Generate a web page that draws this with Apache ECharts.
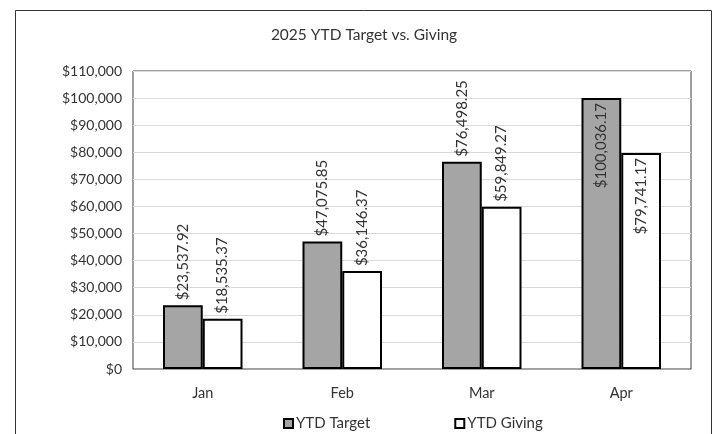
<!DOCTYPE html>
<html><head><meta charset="utf-8">
<script src="https://cdn.jsdelivr.net/npm/echarts@6/dist/echarts.min.js"></script>
<style>html,body{margin:0;padding:0;background:#fff}#c{width:728px;height:434px}</style>
</head><body><div id="c"></div>
<script>
const categories = ['Jan', 'Feb', 'Mar', 'Apr'];
const targetValues = [23537.92, 47075.85, 76498.25, 100036.17];
const givingValues = [18535.37, 36146.37, 59849.27, 79741.17];
const targetInside = [false, false, false, true];
const givingInside = [false, false, false, true];
const seriesNames = ['YTD Target', 'YTD Giving'];
const yTicks = { min: 0, max: 110000, interval: 10000 };

const FONT = 'Lato, "Open Sans", sans-serif';
function fmt(v) {
  return '$' + v.toLocaleString('en-US', { minimumFractionDigits: 2, maximumFractionDigits: 2 });
}
function buildData(vals, inside) {
  return vals.map((v, i) => ({
    value: v,
    label: inside[i]
      ? { position: 'insideTop', align: 'right', distance: 5 }
      : { position: 'top', align: 'left', distance: 5 }
  }));
}
const labelBase = {
  show: true, rotate: 90, verticalAlign: 'middle',
  color: '#333', fontFamily: FONT, fontSize: 15,
  formatter: p => fmt(p.value)
};
const chart = echarts.init(document.getElementById('c'), null, { renderer: 'canvas' });
chart.setOption({
  animation: false,
  backgroundColor: '#fff',
  title: {
    text: '2025 YTD Target vs. Giving', left: 'center', top: 22,
    textStyle: { fontFamily: FONT, fontSize: 15.5, fontWeight: 'normal', color: '#333' }
  },
  graphic: [{
    type: 'rect', shape: { x: 15.5, y: 10.5, width: 696, height: 440 },
    style: { fill: 'none', stroke: '#333', lineWidth: 1 }, silent: true, z: 100
  }],
  legend: {
    data: seriesNames, bottom: -2, left: 278, itemGap: 84,
    icon: 'rect', itemWidth: 9, itemHeight: 9,
    textStyle: { fontFamily: FONT, fontSize: 15, color: '#333', padding: [0, 0, 0, -2] },
    itemStyle: { borderColor: '#000', borderWidth: 2 }
  },
  grid: {
    left: 133, right: 37, top: 71, bottom: 65,
    show: true, borderColor: '#404040', borderWidth: 1
  },
  xAxis: {
    type: 'category', data: categories,
    axisLine: { lineStyle: { color: '#a6a6a6', width: 1 } },
    axisTick: { show: false },
    axisLabel: { fontFamily: FONT, fontSize: 14.5, color: '#333', margin: 17 }
  },
  yAxis: {
    type: 'value', min: yTicks.min, max: yTicks.max, interval: yTicks.interval,
    axisLine: { show: false }, axisTick: { show: false },
    splitLine: { lineStyle: { color: '#d9d9d9', width: 1 } },
    axisLabel: {
      fontFamily: FONT, fontSize: 14, color: '#333', margin: 11,
      formatter: v => '$' + v.toLocaleString('en-US')
    }
  },
  series: [
    {
      name: seriesNames[0], type: 'bar', data: buildData(targetValues, targetInside),
      barGap: '0%', barCategoryGap: '43%',
      itemStyle: { color: '#a5a5a5', borderColor: '#000', borderWidth: 2 },
      label: labelBase
    },
    {
      name: seriesNames[1], type: 'bar', data: buildData(givingValues, givingInside),
      itemStyle: { color: '#ffffff', borderColor: '#000', borderWidth: 2 },
      label: labelBase
    }
  ]
});
</script></body></html>
